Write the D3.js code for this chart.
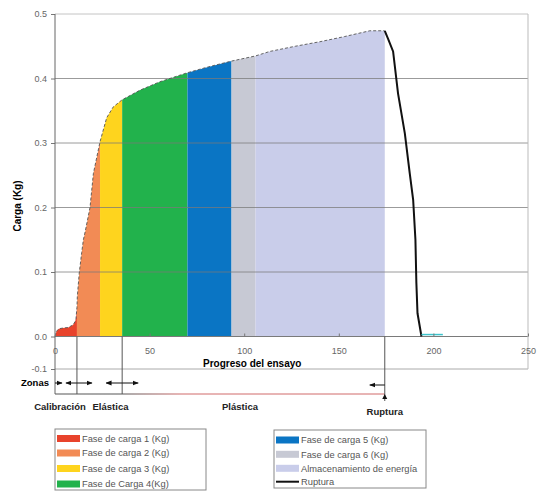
<!DOCTYPE html>
<html>
<head>
<meta charset="utf-8">
<script src="https://cdn.jsdelivr.net/npm/d3@7"></script>
<style>
  body { margin: 0; background: #fff; }
  svg { font-family: "Liberation Sans", Arial, sans-serif; }
</style>
</head>
<body>
<div id="chart"></div>
<script>
// load curve (progreso del ensayo vs carga in Kg)
var progreso = [0, 0.8, 2, 4, 7, 9.5, 10.6, 11.1, 11.6, 11.8, 12.8, 14.1, 15, 16, 18.5, 20.3, 23.8, 27.3, 30.8, 35.5,
                45, 55.5, 70, 81, 93.3, 106, 113.6, 127, 140, 153, 166.4, 174.3];
var carga = [0, 0.008, 0.012, 0.013, 0.014, 0.018, 0.023, 0.028, 0.045, 0.062, 0.098, 0.13, 0.15, 0.163, 0.2, 0.253, 0.302, 0.339, 0.356, 0.367,
             0.382, 0.395, 0.409, 0.418, 0.427, 0.435, 0.442, 0.45, 0.457, 0.465, 0.474, 0.474];

// rupture line
var progresoRuptura = [174.3, 176, 178.7, 181.3, 184.9, 187.5, 189.3, 190.5, 191, 191.6, 193.7];
var cargaRuptura = [0.474, 0.462, 0.442, 0.377, 0.315, 0.253, 0.212, 0.15, 0.083, 0.036, 0];

// small tail after rupture
var progresoCola = [193.7, 205];
var cargaCola = [0.003, 0.003];

// load phases
var fases = ["Fase de carga 1 (Kg)", "Fase de carga 2 (Kg)", "Fase de carga 3 (Kg)", "Fase de Carga 4(Kg)",
             "Fase de carga 5 (Kg)", "Fase de carga 6 (Kg)", "Almacenamiento de energía"];
var faseInicio = [0, 11.6, 23.8, 35.5, 70, 93.3, 106];
var faseFin = [11.6, 23.8, 35.5, 70, 93.3, 106, 174.3];

// zones under the chart
var zonas = ["Calibración", "Elástica", "Plástica", "Ruptura"];
var zonaLimites = [0, 11.6, 35.5, 174.3];

var yTicks = [0.5, 0.4, 0.3, 0.2, 0.1, 0.0, -0.1];
var xTicks = [0, 50, 100, 150, 200, 250];

var W = 541, H = 491;

var svg = d3.select("#chart").append("svg")
  .attr("width", W)
  .attr("height", H);

var x = d3.scaleLinear().domain([0, 250]).range([55, 528]);
// the -0.1 band is squeezed in the original
var y = d3.scaleLinear().domain([-0.1, 0, 0.5]).range([369, 336.5, 14]);

var color = d3.scaleOrdinal()
  .domain(fases)
  .range(["#e8432c", "#f28b55", "#fed41e", "#22b24c", "#0a75c4", "#c7c9d4", "#c9cdea"]);

var curva = progreso.map(function(p, i) { return {x: p, y: carga[i]}; });
var ruptura = progresoRuptura.map(function(p, i) { return {x: p, y: cargaRuptura[i]}; });
var cola = progresoCola.map(function(p, i) { return {x: p, y: cargaCola[i]}; });

var area = d3.area()
  .x(function(d) { return x(d.x); })
  .y0(y(0))
  .y1(function(d) { return y(d.y); });

var line = d3.line()
  .x(function(d) { return x(d.x); })
  .y(function(d) { return y(d.y); });

// phase areas
svg.selectAll(".fase")
  .data(fases)
  .enter()
  .append("path")
    .attr("class", "fase")
    .attr("d", function(f, i) {
      var pts = curva.filter(function(d) { return d.x >= faseInicio[i] && d.x <= faseFin[i]; });
      return area(pts);
    })
    .attr("fill", function(f) { return color(f); });

// gridlines (show through the areas in the original)
svg.selectAll(".grid")
  .data(yTicks)
  .enter()
  .append("line")
    .attr("class", "grid")
    .attr("x1", x(0)).attr("x2", x(250))
    .attr("y1", function(d) { return y(d); })
    .attr("y2", function(d) { return y(d); })
    .attr("stroke", function(d) { return d == 0.5 ? "#c4c4c4" : (d == -0.1 ? "#aaa" : "#7a7a7a"); })
    .attr("stroke-opacity", function(d) { return d > 0 && d < 0.5 ? 0.75 : 1; })
    .attr("stroke-width", 1);

// right border
svg.append("line")
  .attr("x1", x(250)).attr("x2", x(250))
  .attr("y1", y(0.5)).attr("y2", y(-0.1))
  .attr("stroke", "#bbb");

// dashed outline on top of the area
svg.append("path")
  .attr("d", line(curva))
  .attr("fill", "none")
  .attr("stroke", "#555")
  .attr("stroke-width", 0.9)
  .attr("stroke-dasharray", "3,2");

// rupture line
svg.append("path")
  .attr("d", line(ruptura))
  .attr("fill", "none")
  .attr("stroke", "#111")
  .attr("stroke-width", 2);

svg.append("path")
  .attr("d", line(cola))
  .attr("fill", "none")
  .attr("stroke", "#3fc4cc")
  .attr("stroke-width", 1.5);

// y axis
var fmt = function(d) { return d3.format(".1f")(d).replace("\u2212", "-"); };
var yAxis = svg.append("g")
  .attr("transform", "translate(" + x(0) + ",0)")
  .call(d3.axisLeft(y).tickValues(yTicks).tickFormat(fmt).tickSize(4).tickPadding(4));
yAxis.select(".domain").remove();
yAxis.selectAll("line").attr("stroke", "#777");
yAxis.selectAll("text").attr("fill", "#666").style("font-size", "9px");

// left axis line runs down into the zone band
svg.append("line")
  .attr("x1", x(0)).attr("x2", x(0))
  .attr("y1", y(0.5)).attr("y2", 394)
  .attr("stroke", "#666");

// x axis
var xAxis = svg.append("g")
  .attr("transform", "translate(0," + y(0) + ")")
  .call(d3.axisBottom(x).tickValues(xTicks).tickSize(-3).tickPadding(11));
xAxis.select(".domain").remove();
xAxis.selectAll("line").attr("stroke", "#777");
xAxis.selectAll("text").attr("fill", "#666").style("font-size", "9px");

svg.append("text")
  .attr("x", 203)
  .attr("y", 367)
  .style("font-size", "10px")
  .style("font-weight", "bold")
  .text("Progreso del ensayo");

svg.append("text")
  .attr("transform", "translate(21,206) rotate(-90)")
  .attr("text-anchor", "middle")
  .style("font-size", "10px")
  .style("font-weight", "bold")
  .text("Carga (Kg)");

// zone band
svg.append("text")
  .attr("x", 49).attr("y", 386)
  .attr("text-anchor", "end")
  .style("font-size", "9.5px")
  .style("font-weight", "bold")
  .text("Zonas");

var grad = svg.append("defs").append("linearGradient")
  .attr("id", "zonaGrad")
  .attr("gradientUnits", "userSpaceOnUse")
  .attr("x1", x(zonaLimites[2])).attr("x2", x(zonaLimites[2]) + 60);
grad.append("stop").attr("offset", 0).attr("stop-color", "#555");
grad.append("stop").attr("offset", 1).attr("stop-color", "#d06a6a");

svg.append("line")
  .attr("x1", x(0)).attr("x2", x(zonaLimites[3]))
  .attr("y1", 394).attr("y2", 394)
  .attr("stroke", "url(#zonaGrad)");

// boundaries of the zones
svg.selectAll(".limite")
  .data(zonaLimites.slice(1))
  .enter()
  .append("line")
    .attr("class", "limite")
    .attr("x1", function(d) { return x(d); })
    .attr("x2", function(d) { return x(d); })
    .attr("y1", y(0))
    .attr("y2", function(d, i) { return i == 2 ? 401 : 394; })
    .attr("stroke", "#555");

// arrows
svg.append("defs").append("marker")
  .attr("id", "flecha")
  .attr("viewBox", "0 0 10 10")
  .attr("refX", 9).attr("refY", 5)
  .attr("markerWidth", 6).attr("markerHeight", 6)
  .attr("orient", "auto-start-reverse")
  .append("path")
    .attr("d", "M0,1 L10,5 L0,9 z")
    .attr("fill", "#111");

var flechas = [
  {from: zonaLimites[0], dx: 7, yy: 383},
  {from: zonaLimites[1], dx: -11, yy: 383},
  {from: zonaLimites[1], dx: 15, yy: 383},
  {from: zonaLimites[2], dx: -16, yy: 383},
  {from: zonaLimites[2], dx: 16, yy: 383},
  {from: zonaLimites[3], dx: -15, yy: 385}
];
svg.selectAll(".flecha")
  .data(flechas)
  .enter()
  .append("line")
    .attr("class", "flecha")
    .attr("x1", function(d) { return x(d.from); })
    .attr("x2", function(d) { return x(d.from) + d.dx; })
    .attr("y1", function(d) { return d.yy; })
    .attr("y2", function(d) { return d.yy; })
    .attr("stroke", "#111")
    .attr("stroke-width", 1)
    .attr("marker-end", "url(#flecha)");

// upward arrow head at the rupture line
svg.append("path")
  .attr("d", "M" + (x(zonaLimites[3]) - 2.5) + ",399 L" + x(zonaLimites[3]) + ",394 L" + (x(zonaLimites[3]) + 2.5) + ",399 z")
  .attr("fill", "#111");

var zonaTexto = [
  {t: zonas[0], px: 60, py: 410},
  {t: zonas[1], px: 110.5, py: 410},
  {t: zonas[2], px: 240, py: 410},
  {t: zonas[3], px: x(zonaLimites[3]), py: 415}
];
svg.selectAll(".zona")
  .data(zonaTexto)
  .enter()
  .append("text")
    .attr("class", "zona")
    .attr("x", function(d) { return d.px; })
    .attr("y", function(d) { return d.py; })
    .attr("text-anchor", "middle")
    .attr("fill", "#222")
    .style("font-size", "9.5px")
    .style("font-weight", "bold")
    .text(function(d) { return d.t; });

// legends
function legend(items, bx, by, bw, bh, rowY) {
  var g = svg.append("g");
  g.append("rect")
    .attr("x", bx).attr("y", by)
    .attr("width", bw).attr("height", bh)
    .attr("fill", "#fff")
    .attr("stroke", "#888");
  var row = g.selectAll(".item")
    .data(items)
    .enter()
    .append("g")
      .attr("transform", function(d, i) { return "translate(" + (bx + 2) + "," + rowY[i] + ")"; });
  row.each(function(d) {
    var r = d3.select(this);
    if (d == "Ruptura") {
      r.append("line").attr("x1", 0).attr("x2", 23).attr("y1", 0).attr("y2", 0)
        .attr("stroke", "#111").attr("stroke-width", 2);
    } else {
      r.append("rect").attr("x", 0).attr("y", -3.5).attr("width", 23).attr("height", 7)
        .attr("fill", color(d));
    }
  });
  row.append("text")
    .attr("x", 25)
    .attr("y", 3.3)
    .attr("fill", "#555")
    .style("font-size", "9.3px")
    .text(function(d) { return d; });
}

legend(fases.slice(0, 4), 55, 429, 151, 61, [438.5, 453, 468.5, 484]);
legend(fases.slice(4).concat(["Ruptura"]), 274, 430, 152, 58, [440, 454.3, 468.3, 481.7]);
</script>
</body>
</html>
